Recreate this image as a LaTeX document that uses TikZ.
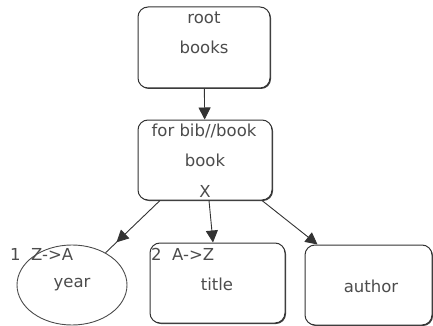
\documentclass[tikz,border=0pt]{standalone}
\usepackage{fontspec}
\setmainfont{DejaVu Sans}
\usetikzlibrary{arrows.meta,shapes.geometric,shadows,decorations.markings}

\begin{document}
\begin{tikzpicture}[x=1pt,y=-1pt,
  box/.style={draw=black!80, line width=1pt, rounded corners=10pt, fill=white, inner sep=0pt,
    drop shadow={shadow xshift=1pt, shadow yshift=-1pt, fill=black!75, opacity=1}},
  oval/.style={ellipse, draw=black!70, line width=0.9pt, inner sep=0pt},
  txt/.style={text=black!70, font=\fontsize{16.5}{18}\selectfont, inner sep=0pt},
  link/.style={-{Triangle[length=12pt,width=12pt]}, draw=black!80, line width=0.9pt},
  midlink/.style={draw=black!80, line width=0.9pt, postaction=decorate,
    decoration={markings, mark=at position #1 with {\arrow{Triangle[length=12pt,width=12pt]}}}}]
\useasboundingbox (0,0) rectangle (433,326);
% boxes
\node[box, minimum width=132pt, minimum height=81pt] (root) at (204,47.5) {};
\node[box, minimum width=134pt, minimum height=80pt] (bib) at (205,160) {};
\node[oval, minimum width=110pt, minimum height=80pt] (year) at (72,285) {};
\node[box, minimum width=135pt, minimum height=80pt] (title) at (217.5,283) {};
\node[box, minimum width=127pt, minimum height=80pt] (author) at (368.5,285) {};
% texts
\node[txt] (rootL) at (204,18) {root};
\node[txt] (rootN) at (204,47) {books};
\node[txt] (bibL) at (204,131) {for bib//book};
\node[txt] (bibN) at (205,160) {book};
\node[txt] (bibX) at (205,191) {X};
\node[txt, anchor=west] (yearL) at (10,254) {1\ \ Z->A};
\node[txt] (yearN) at (72,285) {year};
\node[txt, anchor=west] (titleL) at (151,254) {2\ \ A->Z};
\node[txt] (titleN) at (217,284) {title};
\node[txt] (authorN) at (371,286) {author};
% links
\draw[link] (root) -- (bib);
\draw[midlink=0.8] ([xshift=-45pt]bib.south) -- (year);
\draw[link] ([xshift=4pt]bib.south) -- ([xshift=-4.5pt]title.north);
\draw[link] ([xshift=57pt]bib.south) -- ([xshift=13pt]author.north west);
\end{tikzpicture}
\end{document}
